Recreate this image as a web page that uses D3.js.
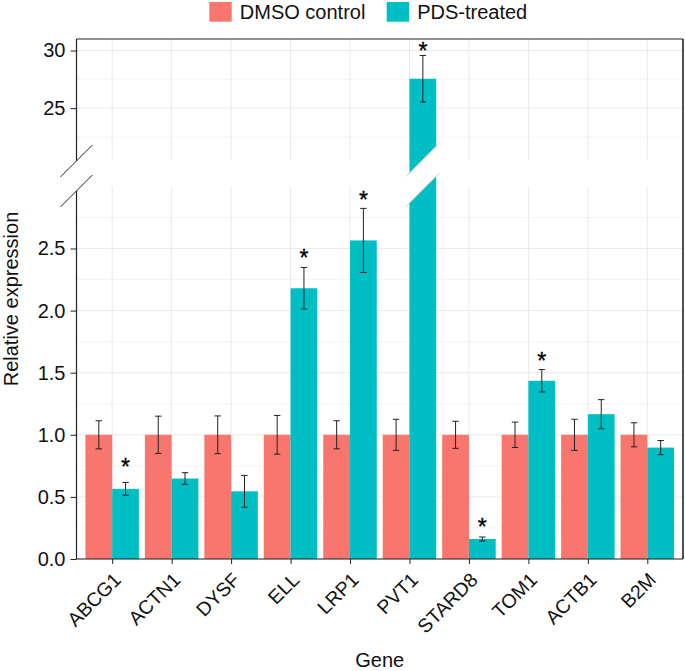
<!DOCTYPE html>
<html><head><meta charset="utf-8">
<script src="https://cdn.jsdelivr.net/npm/d3@7"></script>
<style>
html,body{margin:0;padding:0;background:#fff;}
text{font-family:"Liberation Sans",Arial,Helvetica,sans-serif;}
</style></head>
<body><svg id="chart" width="685" height="671"></svg>
<script>
// ---- data ----
const genes = ["ABCG1","ACTN1","DYSF","ELL","LRP1","PVT1","STARD8","TOM1","ACTB1","B2M"];
const groups = ["DMSO control","PDS-treated"];
const dmsoMean = [1,1,1,1,1,1,1,1,1,1];
const dmsoErr  = [0.113,0.150,0.152,0.156,0.113,0.125,0.109,0.102,0.125,0.097];
const pdsMean  = [0.565,0.648,0.545,2.18,2.565,27.55,0.161,1.435,1.166,0.897];
const pdsErr   = [0.051,0.047,0.128,0.167,0.258,2.02,0.016,0.090,0.117,0.057];
const starVal  = [0.783,null,null,2.466,2.93,30.39,0.295,1.629,null,null];
const lowTicks = [0,0.5,1,1.5,2,2.5];
const lowMinor = [0.25,0.75,1.25,1.75,2.25,2.75];
const upTicks  = [25,30];
const upMinor  = [22.5,27.5];
const colors = ["#F8766D","#00BFC4"];

// ---- layout ----
const svg = d3.select("#chart");
const X0 = 76.5, X1 = 683;
const lowTop = 186.4, lowBot = 559, upTop = 39, upBot = 160;
const x = d3.scalePoint().domain(genes).range([X0, X1]).padding(0.6);
const step = x.step();
const xs = d3.scaleBand().domain(groups).range([-0.45*step, 0.45*step]);
const yLow = d3.scaleLinear().domain([0, 3]).range([lowBot, lowTop]);
const yUp  = d3.scaleLinear().domain([20.5, 31]).range([upBot, upTop]);
const y = v => v <= 3 ? yLow(v) : yUp(v);

const data = [];
genes.forEach((g,i)=>{
  data.push({g, grp:groups[0], m:dmsoMean[i], e:dmsoErr[i], star:null});
  data.push({g, grp:groups[1], m:pdsMean[i], e:pdsErr[i], star:starVal[i]});
});

// ---- grid ----
const grid = svg.append("g");
function hgrid(vals, sc, col){
  grid.selectAll(null).data(vals).enter().append("line")
    .attr("x1",X0).attr("x2",X1).attr("y1",d=>sc(d)).attr("y2",d=>sc(d))
    .attr("stroke",col).attr("stroke-width",1);
}
hgrid(lowMinor.filter(v=>yLow(v)>=lowTop), yLow, "#f4f4f4");
hgrid(upMinor, yUp, "#f4f4f4");
hgrid(lowTicks, yLow, "#e9e9e9");
hgrid(upTicks, yUp, "#e9e9e9");
[[upTop,upBot],[lowTop,lowBot]].forEach(([a,b])=>{
  grid.selectAll(null).data(genes).enter().append("line")
    .attr("x1",d=>x(d)).attr("x2",d=>x(d)).attr("y1",a).attr("y2",b)
    .attr("stroke","#e9e9e9").attr("stroke-width",1);
});

// ---- bars ----
const bw = xs.bandwidth();
svg.append("g").selectAll("rect").data(data).enter().append("rect")
  .attr("x",d=>x(d.g)+xs(d.grp))
  .attr("width",bw)
  .attr("y",d=>y(d.m))
  .attr("height",d=>y(0)-y(d.m))
  .attr("fill",(d,i)=>colors[groups.indexOf(d.grp)]);

// break stripe across bars that cross the gap
const gapA = 159.5, gapB = 189.7;
data.filter(d=>d.m>3).forEach(d=>{
  const xl = x(d.g)+xs(d.grp), xr = xl+bw, h = bw/2;
  svg.append("polygon")
    .attr("points",[[xl-1,gapA+h+1],[xr+1,gapA-h-1],[xr+1,gapB-h-1],[xl-1,gapB+h+1]].map(p=>p.join(",")).join(" "))
    .attr("fill","#fff");
  [gapA,gapB].forEach(c=>{
    svg.append("line").attr("x1",xl-3.5).attr("y1",c+h+3.5).attr("x2",xr+3.5).attr("y2",c-h-3.5)
      .attr("stroke","#bbbbbb").attr("stroke-width",0.8);
  });
});

// ---- error bars ----
const eb = svg.append("g").attr("stroke","#222").attr("stroke-width",1).attr("fill","none");
data.forEach(d=>{
  const cx = x(d.g)+xs(d.grp)+bw/2;
  const t = y(d.m+d.e), b = y(d.m-d.e);
  eb.append("line").attr("x1",cx).attr("x2",cx).attr("y1",t).attr("y2",b);
  eb.append("line").attr("x1",cx-3.2).attr("x2",cx+3.2).attr("y1",t).attr("y2",t);
  eb.append("line").attr("x1",cx-3.2).attr("x2",cx+3.2).attr("y1",b).attr("y2",b);
});

// ---- stars ----
svg.append("g").selectAll("text").data(data.filter(d=>d.star!=null)).enter().append("text")
  .attr("x",d=>x(d.g)+xs(d.grp)+bw/2)
  .attr("y",d=>y(d.star)+12.8)
  .attr("text-anchor","middle").attr("font-size",23).attr("fill","#000")
  .attr("stroke","#000").attr("stroke-width",0.3)
  .text("*");

// ---- frame / axes ----
const fr = svg.append("g").attr("stroke","#222").attr("fill","none");
fr.append("line").attr("x1",X0).attr("x2",X1).attr("y1",upTop).attr("y2",upTop).attr("stroke-width",1.2);
fr.append("line").attr("x1",X1).attr("x2",X1).attr("y1",upTop).attr("y2",lowBot).attr("stroke-width",1.6);
fr.append("line").attr("x1",X0).attr("x2",X0).attr("y1",upTop).attr("y2",160.9).attr("stroke-width",1.2);
fr.append("line").attr("x1",X0).attr("x2",X0).attr("y1",190.9).attr("y2",lowBot).attr("stroke-width",1.2);
fr.append("line").attr("x1",X0).attr("x2",X1).attr("y1",lowBot).attr("y2",lowBot).attr("stroke-width",1.2);
[160.9,190.9].forEach(c=>{
  fr.append("line").attr("x1",X0-16).attr("y1",c+16).attr("x2",X0+16).attr("y2",c-16).attr("stroke-width",1);
});

// y axes (ticks + labels)
function yAxis(sc, ticks, fmt){
  const g = svg.append("g").attr("transform",`translate(${X0},0)`)
    .call(d3.axisLeft(sc).tickValues(ticks).tickFormat(fmt).tickSize(6).tickPadding(5));
  g.select(".domain").remove();
  g.selectAll(".tick line").attr("stroke","#222");
  g.selectAll(".tick text").attr("font-size",20).attr("fill","#111")
    .style("font-family","'Liberation Sans',Arial,sans-serif");
  return g;
}
yAxis(yLow, lowTicks, d3.format(".1f"));
yAxis(yUp, upTicks, d3.format("d"));

// x axis
const xa = svg.append("g").attr("transform",`translate(0,${lowBot})`)
  .call(d3.axisBottom(x).tickSize(5).tickFormat(""));
xa.select(".domain").remove();
xa.selectAll(".tick line").attr("stroke","#222");
svg.append("g").selectAll("text").data(genes).enter().append("text")
  .attr("transform",d=>`translate(${x(d)+10},${lowBot+22}) rotate(-45)`)
  .attr("text-anchor","end").attr("font-size",19.5).attr("fill","#111")
  .text(d=>d);

// axis titles
svg.append("text").attr("x",(X0+X1)/2).attr("y",666.5).attr("text-anchor","middle")
  .attr("font-size",20).attr("fill","#111").text("Gene");
svg.append("text").attr("transform",`translate(17.5,${(upTop+lowBot)/2}) rotate(-90)`)
  .attr("text-anchor","middle").attr("font-size",20).attr("fill","#111").text("Relative expression");

// legend
const lg = svg.append("g");
const legX = [209.3, 386.7];
groups.forEach((gname,i)=>{
  lg.append("rect").attr("x",legX[i]).attr("y",2).attr("width",22.4).attr("height",19.7).attr("fill",colors[i]);
  lg.append("text").attr("x",legX[i]+30.5).attr("y",18.6).attr("font-size",20).attr("fill","#111").text(gname);
});
</script></body></html>
